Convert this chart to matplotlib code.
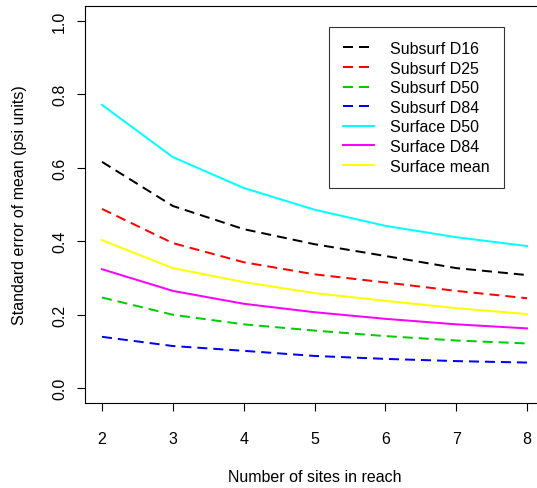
import matplotlib
matplotlib.use("Agg")
import matplotlib.pyplot as plt

plt.rcParams['font.family'] = ['Liberation Sans', 'DejaVu Sans']
plt.rcParams['font.size'] = 11.5

# number of sites sampled in a reach
sites = [2, 3, 4, 5, 6, 7, 8]

# standard error of mean (psi units)
subsurf_d16 = [0.616, 0.496, 0.433, 0.392, 0.360, 0.327, 0.308]
subsurf_d25 = [0.488, 0.395, 0.343, 0.310, 0.288, 0.265, 0.245]
subsurf_d50 = [0.247, 0.200, 0.174, 0.157, 0.142, 0.130, 0.122]
subsurf_d84 = [0.140, 0.115, 0.102, 0.088, 0.080, 0.074, 0.070]
surface_d50 = [0.771, 0.629, 0.545, 0.486, 0.442, 0.411, 0.387]
surface_d84 = [0.324, 0.265, 0.230, 0.207, 0.189, 0.174, 0.163]
surface_mean = [0.403, 0.327, 0.289, 0.259, 0.238, 0.218, 0.202]

series = [
    ("Subsurf D16", subsurf_d16, "black", True),
    ("Subsurf D25", subsurf_d25, "red", True),
    ("Subsurf D50", subsurf_d50, "#00CD00", True),
    ("Subsurf D84", subsurf_d84, "blue", True),
    ("Surface D50", surface_d50, "cyan", False),
    ("Surface D84", surface_d84, "magenta", False),
    ("Surface mean", surface_mean, "yellow", False),
]

W, H = 537, 489
fig = plt.figure(figsize=(W / 100, H / 100), dpi=100)
ax = fig.add_axes([85 / W, 1 - 404 / H, (544 - 85) / W, (404 - 7) / H])

lw = 1.44
for name, vals, col, dashed in series:
    line, = ax.plot(sites, vals, color=col, lw=lw, label=name)
    if dashed:
        line.set_dashes((5, 3))

ax.set_xlim(1.76, 8.24)
ax.set_ylim(-0.04, 1.04)
ax.set_xticks(sites)
ax.set_yticks([0.0, 0.2, 0.4, 0.6, 0.8, 1.0])
ax.set_yticklabels(["0.0", "0.2", "0.4", "0.6", "0.8", "1.0"], rotation=90, va="center")
ax.tick_params(axis="x", direction="out", length=6, width=0.8, pad=14)
ax.tick_params(axis="y", direction="out", length=6, width=0.8, pad=7)
for sp in ax.spines.values():
    sp.set_linewidth(0.8)
    sp.set_color("black")

ax.set_xlabel("Number of sites in reach")
ax.set_ylabel("Standard error of mean (psi units)")
ax.xaxis.set_label_coords(0.5 * (85 + 544) / W, 1 - 478 / H, transform=fig.transFigure)
ax.yaxis.set_label_coords(20 / W, 1 - 205 / H, transform=fig.transFigure)
ax.xaxis.label.set_va("center")
ax.yaxis.label.set_va("center")

leg = ax.legend(loc="upper left", bbox_to_anchor=(329 / W, 1 - 28 / H),
                bbox_transform=fig.transFigure, borderaxespad=0,
                frameon=True, fancybox=False, edgecolor="black",
                handlelength=1.95, handletextpad=1.0, labelspacing=0.29,
                borderpad=0.87, fontsize=11.5)
leg.get_frame().set_linewidth(0.8)

fig.savefig("out.png", dpi=100)
